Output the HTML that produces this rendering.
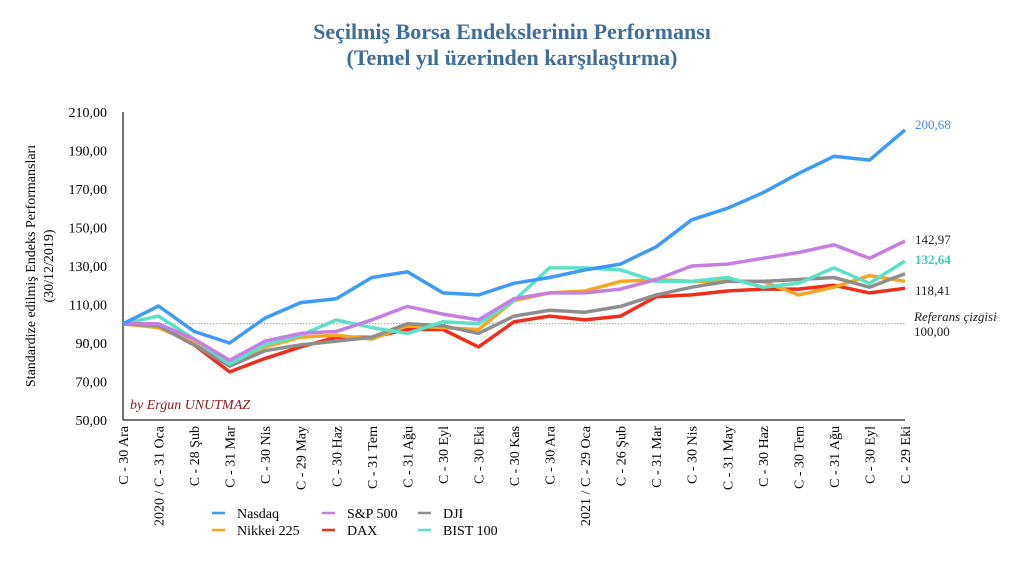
<!DOCTYPE html>
<html><head><meta charset="utf-8"><style>
body{margin:0;background:#fff;width:1024px;height:571px;overflow:hidden}
svg{display:block;font-family:"Liberation Serif",serif}
</style></head><body>
<svg id="c" width="1024" height="571" viewBox="0 0 1024 571">
<text x="512" y="39" text-anchor="middle" font-size="22" font-weight="bold" fill="#3f6e99">Seçilmiş Borsa Endekslerinin Performansı</text>
<text x="512" y="65" text-anchor="middle" font-size="22" font-weight="bold" fill="#3f6e99">(Temel yıl üzerinden karşılaştırma)</text>
<g id="g"></g>
</svg>
<script>
const g=document.getElementById('g');
const X0=123,X1=905,Y0=420,sc=1.925;
const yv=v=>Y0-(v-50)*sc, xi=i=>X0+i*(X1-X0)/22;
let s='';
for(let v=50;v<=210;v+=20){s+=`<text x="107" y="${yv(v)+5}" text-anchor="end" font-size="14">${v},00</text>`;}
s+=`<line x1="123" y1="112" x2="123" y2="420" stroke="#444" stroke-width="1.5"/><line x1="123" y1="420" x2="905" y2="420" stroke="#444" stroke-width="1.5"/>`;
s+=`<line x1="123" y1="${yv(100)}" x2="905" y2="${yv(100)}" stroke="#6a8f4a" stroke-width="0.8" stroke-dasharray="1.5,1.5"/>`;
s+=`<text transform="translate(35,266) rotate(-90)" text-anchor="middle" font-size="14">Standardize edilmiş Endeks Performansları</text>`;
s+=`<text transform="translate(53,266) rotate(-90)" text-anchor="middle" font-size="14">(30/12/2019)</text>`;
const labs=["C - 30 Ara","2020 / C - 31 Oca","C - 28 Şub","C - 31 Mar","C - 30 Nis","C - 29 May","C - 30 Haz","C - 31 Tem","C - 31 Ağu","C - 30 Eyl","C - 30 Eki","C - 30 Kas","C - 30 Ara","2021 / C - 29 Oca","C - 26 Şub","C - 31 Mar","C - 30 Nis","C - 31 May","C - 30 Haz","C - 30 Tem","C - 31 Ağu","C - 30 Eyl","C - 29 Eki"];
labs.forEach((l,i)=>{s+=`<text transform="translate(${xi(i)+5},426) rotate(-90)" text-anchor="end" font-size="14">${l}</text>`;});
const D=[
["#ef2f1d",[100,99,89,75,82,88,93,93,97,97,88,101,104,102,104,114,115,117,118,118,120,116,118.4]],
["#f5a623",[100,98,90,79,88,93,94,92,99,98,97,112,116,117,122,123,122,122,122,115,119,125,122]],
["#8e8e8e",[100,99,89,78,86,89,91,93,100,99,95,104,107,106,109,115,119,122,122,123,124,119,126]],
["#5ce0c8",[100,104,92,79,89,94,102,98,95,101,100,112,129,129,128,122,122,124,119,121,129,121,132.6]],
["#c57fe0",[100,100,92,81,91,95,96,102,109,105,102,113,116,116,118,123,130,131,134,137,141,134,143]],
["#3e9bf5",[100,109.2,96,90,103,111,113,124,127,116,115,121,124,128,131,140,154,160,168,178,187,185,200.7]]];
D.forEach(([c,a])=>{s+=`<polyline fill="none" stroke="${c}" stroke-width="3.5" stroke-linejoin="round" points="${a.map((v,i)=>xi(i).toFixed(1)+','+yv(v).toFixed(1)).join(' ')}"/>`;});
s+=`<text x="915" y="129" font-size="13" fill="#4a86e8">200,68</text>`;
s+=`<text x="915" y="244" font-size="13" fill="#222">142,97</text>`;
s+=`<text x="915" y="264" font-size="13" fill="#3cc9b5" font-weight="bold">132,64</text>`;
s+=`<text x="915" y="295" font-size="13" fill="#222">118,41</text>`;
s+=`<text x="914" y="321" font-size="13" font-style="italic" fill="#222">Referans çizgisi</text>`;
s+=`<text x="914" y="336" font-size="13" fill="#222">100,00</text>`;
s+=`<text x="130" y="409" font-size="14" font-style="italic" fill="#8b1a1a">by Ergun UNUTMAZ</text>`;
const L=[["Nasdaq","#3e9bf5",212,518],["Nikkei 225","#f5a623",212,535],["S&amp;P 500","#c57fe0",322,518],["DAX","#ef2f1d",322,535],["DJI","#8e8e8e",418,518],["BIST 100","#5ce0c8",418,535]];
L.forEach(([t,c,x,y])=>{s+=`<line x1="${x}" y1="${y-5}" x2="${x+13}" y2="${y-5}" stroke="${c}" stroke-width="2.5"/><text x="${x+25}" y="${y}" font-size="14">${t}</text>`;});
g.innerHTML=s;
</script>
</body></html>
